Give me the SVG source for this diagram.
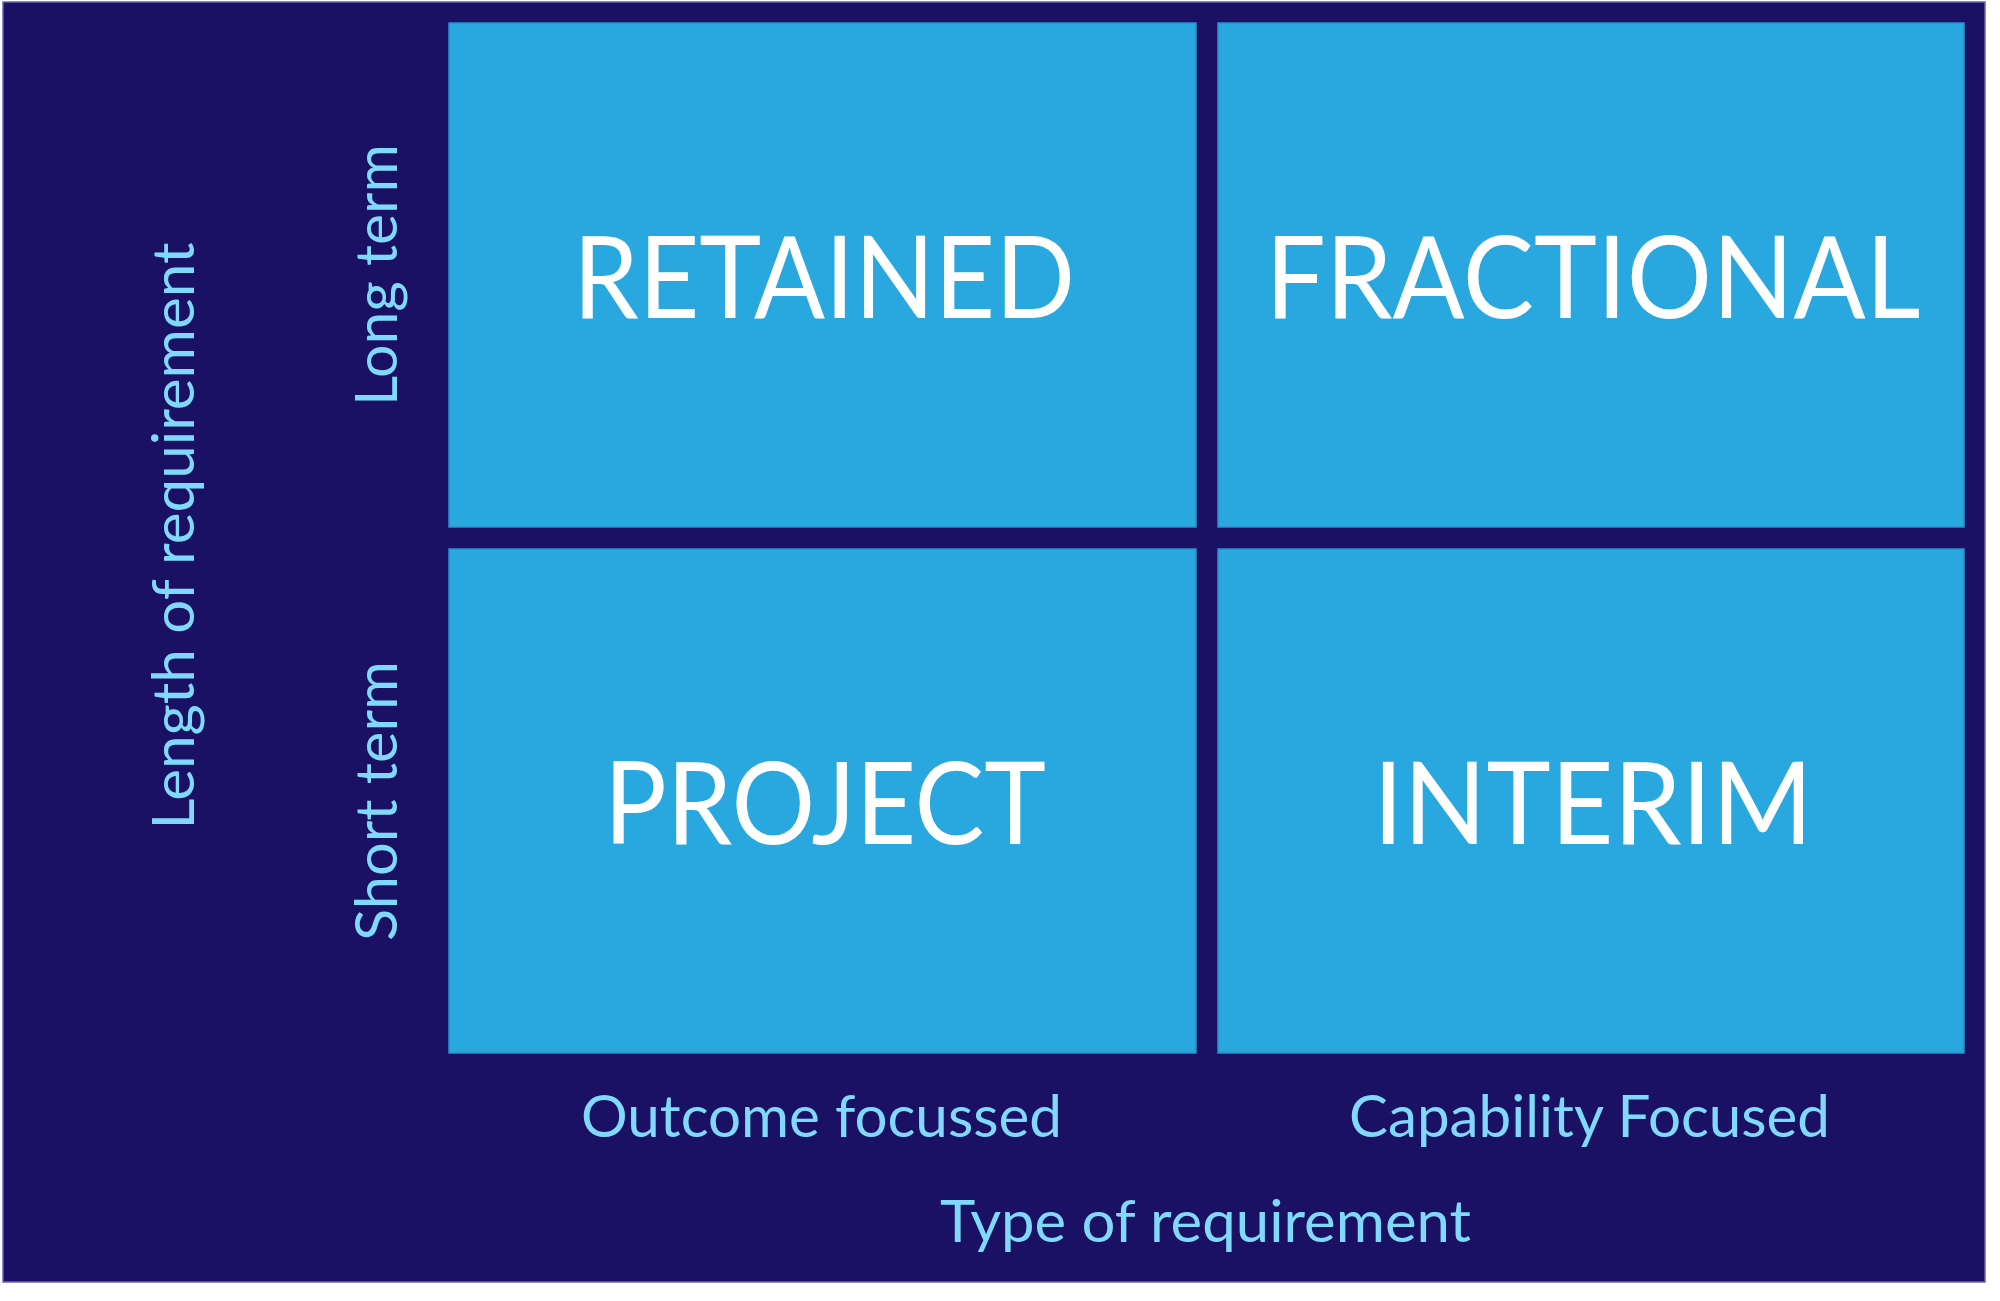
<svg xmlns="http://www.w3.org/2000/svg" width="2000" height="1301" viewBox="0 0 2000 1301">
  <style>
    .cell { fill: #29A8E0; stroke: #2A8FCB; stroke-width: 1.5; }
    .big { font-family: Lato, "Open Sans", "Liberation Sans", sans-serif; font-size: 115px; fill: #FFFFFF; text-anchor: middle; }
    .lbl { font-family: Lato, "Open Sans", "Liberation Sans", sans-serif; font-size: 59px; fill: #80D8FA; text-anchor: middle; }
  </style>
  <rect x="0" y="0" width="2000" height="1301" fill="#FFFFFF"/>
  <rect id="background" x="3" y="2" width="1982" height="1280" fill="#1A1164" stroke="#6B63B3" stroke-width="1.5"/>

  <g id="retained">
    <rect class="cell" x="449" y="23" width="747" height="504"/>
    <text class="big" x="824" y="318" textLength="502" lengthAdjust="spacingAndGlyphs">RETAINED</text>
  </g>
  <g id="fractional">
    <rect class="cell" x="1218" y="23" width="746" height="504"/>
    <text class="big" x="1593" y="318" textLength="655" lengthAdjust="spacingAndGlyphs">FRACTIONAL</text>
  </g>
  <g id="project">
    <rect class="cell" x="449" y="549" width="747" height="504"/>
    <text class="big" x="825" y="844" textLength="442" lengthAdjust="spacingAndGlyphs">PROJECT</text>
  </g>
  <g id="interim">
    <rect class="cell" x="1218" y="549" width="746" height="504"/>
    <text class="big" x="1593" y="844" textLength="440" lengthAdjust="spacingAndGlyphs">INTERIM</text>
  </g>

  <g id="axis-x">
    <text class="lbl" x="821.5" y="1137" textLength="481" lengthAdjust="spacingAndGlyphs">Outcome focussed</text>
    <text class="lbl" x="1589.5" y="1137" textLength="481" lengthAdjust="spacingAndGlyphs">Capability Focused</text>
    <text class="lbl" x="1205.5" y="1242" textLength="531" lengthAdjust="spacingAndGlyphs">Type of requirement</text>
  </g>
  <g id="axis-y">
    <text class="lbl" transform="translate(194,536) rotate(-90)" x="0" y="0" textLength="587" lengthAdjust="spacingAndGlyphs">Length of requirement</text>
    <text class="lbl" transform="translate(397,275) rotate(-90)" x="0" y="0" textLength="262" lengthAdjust="spacingAndGlyphs">Long term</text>
    <text class="lbl" transform="translate(397,801) rotate(-90)" x="0" y="0" textLength="280" lengthAdjust="spacingAndGlyphs">Short term</text>
  </g>
</svg>
